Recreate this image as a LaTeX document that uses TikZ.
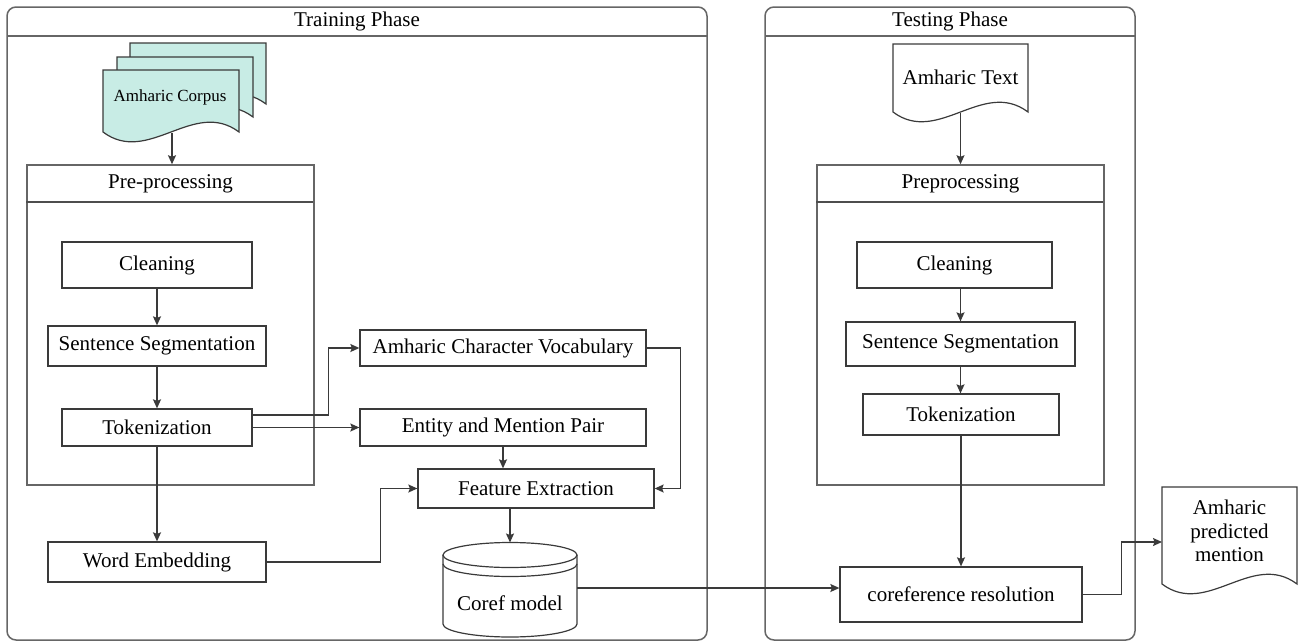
\documentclass[tikz,border=0pt]{standalone}
\usepackage{fontspec}
\setmainfont{Liberation Serif}
\usetikzlibrary{arrows.meta}
\definecolor{corpusfill}{RGB}{200,236,229}
\definecolor{ink}{HTML}{3A3A3A}
\definecolor{framegray}{HTML}{666666}

% document outline: [options] x, y (top left), width, side height
\newcommand{\drawdoc}[5][]{%
  \draw[ink,line width=1.2pt,#1] (#2,#3) -- ++(#4,0) -- ++(0,#5)
    .. controls +(-#4/3,-#4/4) and +(#4/3,#4/4) .. ++(-#4,0) -- cycle;}

\begin{document}
\begin{tikzpicture}[x=1pt,y=-1pt,>={Stealth[length=9pt,width=8pt,inset=1.5pt]},
  every node/.style={font=\fontsize{21}{25}\selectfont},
  box/.style={draw=ink,line width=1.3pt,inner sep=0pt},
  frame/.style={draw=framegray,line width=1.5pt},
  arr/.style={->,draw=ink,line width=1.3pt}]
  \useasboundingbox (0,0) rectangle (1301,643);

  % phases
  \draw[frame,rounded corners=9pt] (7,7) rectangle (707,640);
  \draw[frame] (7,36) -- (707,36);
  \node (train) at (357,21) {Training Phase};
  \draw[frame,rounded corners=9pt] (765,7) rectangle (1135,640);
  \draw[frame] (765,36) -- (1135,36);
  \node (test) at (950,21) {Testing Phase};

  % training side
  \drawdoc[fill=corpusfill]{130}{43}{136}{61}
  \drawdoc[fill=corpusfill]{117}{57}{136}{60}
  \drawdoc[fill=corpusfill]{103}{70}{136}{62}
  \node[font=\fontsize{17}{20}\selectfont] (corpus) at (170,97) {Amharic Corpus};
  \coordinate (corpusfoot) at (172,133);

  \node[frame,minimum width=287pt,minimum height=320pt] (pre) at (170.5,325) {};
  \draw[frame,draw=ink!90,line width=1.8pt] (pre.north west) ++(0,38) -- ++(287,0);
  \node (pretitle) at (170.5,184) {Pre-processing};

  \node[box,minimum width=190pt,minimum height=46pt] (clean) at (157,265) {Cleaning};
  \node[box,minimum width=218pt,minimum height=40pt] (sent) at (157,346) {Sentence Segmentation};
  \node[box,minimum width=190pt,minimum height=37pt] (tok) at (157,427.5) {Tokenization};
  \node[box,minimum width=218pt,minimum height=40pt] (wemb) at (157,562) {Word Embedding};
  \node[box,minimum width=286pt,minimum height=36pt] (vocab) at (503,348) {Amharic Character Vocabulary};
  \node[box,minimum width=286pt,minimum height=37pt] (pair) at (503,427.5) {Entity and Mention Pair};
  \node[box,minimum width=236pt,minimum height=39pt] (feat) at (536,488.5) {Feature Extraction};

  % coref model store
  \draw[ink,line width=1.2pt] (443,555) -- (443,624) arc[start angle=180,end angle=0,x radius=67,y radius=13] -- (577,555);
  \draw[ink,line width=1.2pt] (510,555) ellipse[x radius=67,y radius=12.5];
  \draw[ink,line width=1.2pt] (443,564) arc[start angle=180,end angle=0,x radius=67,y radius=12.5];
  \node (coref) at (510,603) {Coref model};
  \coordinate (coreftop) at (510,542.5);
  \coordinate (corefright) at (577,588);

  % testing side
  \drawdoc{893}{44}{135}{68}
  \node (amtext) at (960.5,77) {Amharic Text};
  \coordinate (amtextfoot) at (960.5,113);

  \node[frame,minimum width=287pt,minimum height=320pt] (prep) at (960.5,325) {};
  \draw[frame,draw=ink!90,line width=1.8pt] (prep.north west) ++(0,38) -- ++(287,0);
  \node (preptitle) at (960.5,184) {Preprocessing};

  \node[box,minimum width=195pt,minimum height=46pt] (tclean) at (954.5,265) {Cleaning};
  \node[box,minimum width=229pt,minimum height=44pt] (tsent) at (960.5,344) {Sentence Segmentation};
  \node[box,minimum width=196pt,minimum height=41pt] (ttok) at (961,414.5) {Tokenization};
  \node[box,minimum width=242pt,minimum height=55pt] (resol) at (961,594.5) {coreference resolution};

  \drawdoc{1162}{487}{135}{97}
  \node[align=center,font=\fontsize{21}{23.5}\selectfont] (predicted) at (1229.5,531) {Amharic\\predicted\\mention};
  \coordinate (predin) at (1162,542);

  % connectors
  \draw[arr] (corpusfoot) -- (corpusfoot |- pre.north);
  \draw[arr] (clean) -- (sent);
  \draw[arr] (sent) -- (tok);
  \draw[arr] (tok) -- (wemb);
  \draw[arr] ([yshift=12.5pt]tok.east) -- ++(76,0) |- (vocab.west);
  \draw[arr] (tok.east) -- (pair.west);
  \draw[arr] (pair.south) -- (pair.south |- feat.north);
  \draw[arr] (vocab.east) -- ++(34,0) |- (feat.east);
  \draw[arr] (wemb.east) -- ++(114,0) |- (feat.west);
  \draw[arr] (feat.south -| coreftop) -- (coreftop);
  \draw[arr] (corefright) -- (corefright -| resol.west);

  \draw[arr] (amtextfoot) -- (amtextfoot |- prep.north);
  \draw[arr] (tclean.south -| tsent) -- (tsent.north);
  \draw[arr] (tsent.south) -- (tsent.south |- ttok.north);
  \draw[arr] (ttok.south) -- (ttok.south |- resol.north);
  \draw[arr] (resol.east) -- ++(39,0) |- (predin);
\end{tikzpicture}
\end{document}
